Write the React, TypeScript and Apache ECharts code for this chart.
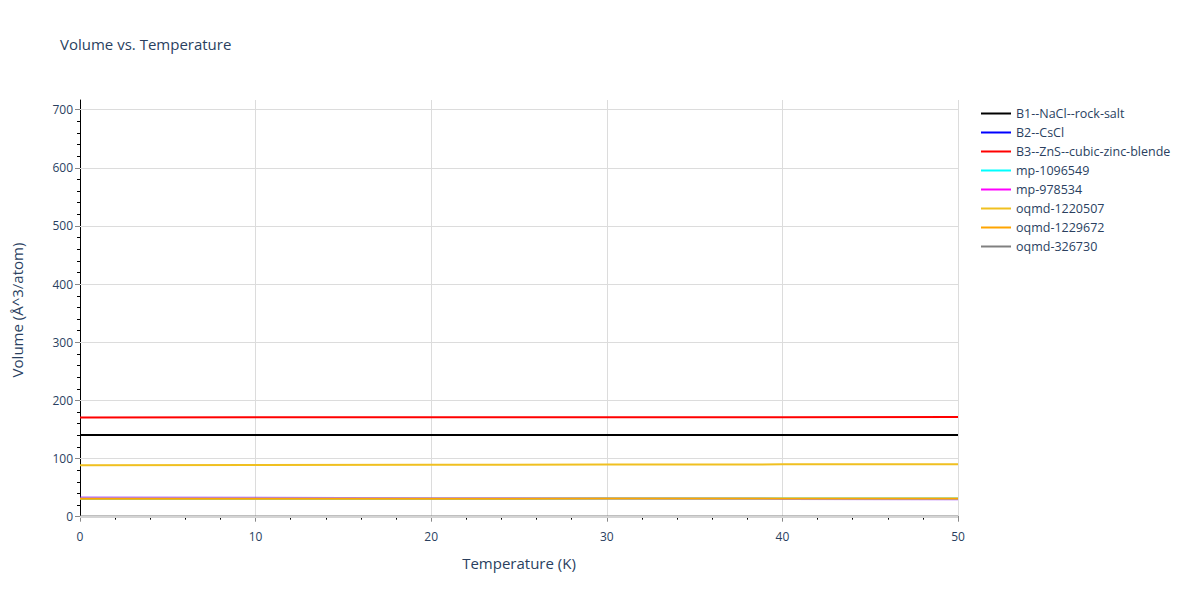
import React, { useEffect, useRef } from "react";
import * as echarts from "echarts";

const temperature = [0, 10, 20, 30, 40, 50];
const b1 = [140.5, 140.5, 140.5, 140.6, 140.6, 140.6];
const b2 = [33.0, 32.4, 31.8, 31.2, 30.6, 30.0];
const b3 = [170.8, 170.9, 171.0, 171.1, 171.2, 171.3];
const mp1096549 = [30.8, 30.9, 31.0, 31.1, 31.2, 31.3];
const mp978534 = [33.0, 32.4, 31.8, 31.2, 30.6, 30.0];
const oqmd1220507 = [88.4, 88.8, 89.2, 89.6, 90.0, 90.4];
const oqmd1229672 = [30.8, 30.9, 31.0, 31.1, 31.2, 31.3];
const oqmd326730 = [0.3, 0.3, 0.3, 0.3, 0.3, 0.3];

const yMajorTicks = [0, 100, 200, 300, 400, 500, 600, 700];
const yMinorTicks = [20, 40, 60, 80, 120, 140, 160, 180, 220, 240, 260, 280, 320, 340, 360, 380, 420, 440, 460, 480, 520, 540, 560, 580, 620, 640, 660, 680];

const seriesDefs = [
  { name: "B1--NaCl--rock-salt", color: "#000000", data: b1 },
  { name: "B2--CsCl", color: "#0000ff", data: b2 },
  { name: "B3--ZnS--cubic-zinc-blende", color: "#ff0000", data: b3 },
  { name: "mp-1096549", color: "#00ffff", data: mp1096549 },
  { name: "mp-978534", color: "#ff00ff", data: mp978534 },
  { name: "oqmd-1220507", color: "#f0c020", data: oqmd1220507 },
  { name: "oqmd-1229672", color: "#ffa500", data: oqmd1229672 },
  { name: "oqmd-326730", color: "#808080", data: oqmd326730 },
];

const textColor = "#2a3f5f";
const font = "'Open Sans', 'Noto Sans', sans-serif";

export default function App() {
  const ref = useRef<HTMLDivElement>(null);
  useEffect(() => {
    document.body.style.margin = "0";
    if (!ref.current) return;
    const chart = echarts.init(ref.current, undefined, { renderer: "svg" });
    const series: any[] = seriesDefs.map((s) => ({
      name: s.name,
      type: "line",
      data: temperature.map((t, i) => [t, s.data[i]]),
      symbol: "none",
      showSymbol: false,
      lineStyle: { color: s.color, width: 2, opacity: s.name === "B2--CsCl" || s.name === "mp-978534" ? 0.35 : 1 },
      itemStyle: { color: s.color },
      z: 3,
    }));
    series.push({
      name: "_grid",
      type: "line",
      data: [],
      silent: true,
      z: 1,
      markLine: {
        silent: true,
        symbol: "none",
        label: { show: false },
        animation: false,
        data: yMajorTicks.map((v) => ({
          yAxis: v,
          lineStyle: { color: v === 0 ? "#d4d4d4" : "#dcdcdc", width: v === 0 ? 2 : 1, type: "solid" },
        })),
      },
    });
    chart.setOption({
      animation: false,
      title: {
        text: "Volume vs. Temperature",
        left: 60,
        top: 36,
        padding: 0,
        textStyle: { fontFamily: font, fontSize: 15, fontWeight: "normal", color: textColor },
      },
      legend: {
        data: seriesDefs.map((s) => s.name),
        orient: "vertical",
        left: 980,
        top: 107,
        padding: 0,
        itemWidth: 30,
        itemHeight: 13,
        itemGap: 6,
        itemStyle: { opacity: 0 },
        lineStyle: { opacity: 1, width: 2 },
        textStyle: { fontFamily: font, fontSize: 12.5, color: textColor },
      },
      grid: { left: 80, right: 242, top: 100, bottom: 80, containLabel: false },
      xAxis: {
        type: "value",
        min: 0,
        max: 50,
        interval: 10,
        name: "Temperature (K)",
        nameLocation: "middle",
        nameGap: 35,
        nameTextStyle: { fontFamily: font, fontSize: 15, color: textColor },
        axisLine: { show: true, lineStyle: { color: "#000", width: 1 } },
        axisTick: { show: true, length: 5, lineStyle: { color: "#888" } },
        minorTick: { show: true, splitNumber: 5, length: 3, lineStyle: { color: "#000" } },
        axisLabel: { fontFamily: font, fontSize: 12, color: textColor, margin: 10 },
        splitLine: { show: true, lineStyle: { color: "#dcdcdc", width: 1 } },
      },
      yAxis: [
        {
          type: "value",
          min: -5.7,
          max: 716.7,
          name: "Volume (Å^3/atom)",
          nameLocation: "middle",
          nameGap: 56,
          nameTextStyle: { fontFamily: font, fontSize: 15, color: textColor },
          axisLine: { show: true, lineStyle: { color: "#000", width: 1 } },
          axisTick: { show: true, length: 5, lineStyle: { color: "#888" }, customValues: yMajorTicks },
          axisLabel: { fontFamily: font, fontSize: 12, color: textColor, margin: 7, customValues: yMajorTicks },
          splitLine: { show: false },
        },
        {
          type: "value",
          min: -5.7,
          max: 716.7,
          position: "left",
          axisLine: { show: false },
          axisTick: { show: true, length: 3, lineStyle: { color: "#000" }, customValues: yMinorTicks },
          axisLabel: { show: false, customValues: yMinorTicks },
          splitLine: { show: false },
        },
      ],
      series,
    });
    return () => chart.dispose();
  }, []);
  return <div ref={ref} style={{ width: 1200, height: 600 }} />;
}
